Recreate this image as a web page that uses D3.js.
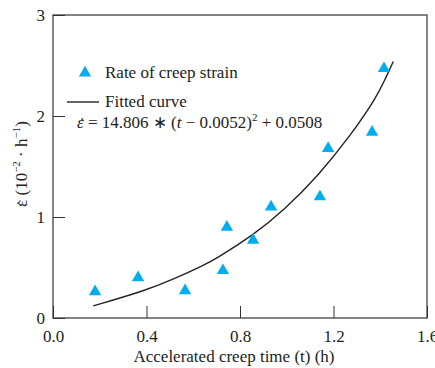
<!DOCTYPE html>
<meta charset="utf-8">
<style>
  body { margin: 0; background: #fff; }
  text { font-family: "Liberation Serif", "Times New Roman", serif; fill: #222; }
</style>
<body>
<div id="chart"></div>
<script src="https://cdn.jsdelivr.net/npm/d3@7"></script>
<script>
// measured points (h, 10^-2 h^-1)
const timeH = [0.18, 0.364, 0.565, 0.727, 0.744, 0.856, 0.933, 1.142, 1.177, 1.365, 1.416];
const rate  = [0.26, 0.40, 0.27, 0.47, 0.90, 0.77, 1.10, 1.20, 1.68, 1.84, 2.47];

// fitted curve
const fitT = [0.172, 0.394, 0.522, 0.643, 0.693, 0.857, 0.985, 1.135, 1.271, 1.385, 1.42, 1.456];
const fitY = [0.12, 0.27, 0.39, 0.52, 0.58, 0.82, 1.06, 1.41, 1.80, 2.19, 2.36, 2.54];

const xTicks = [0, 0.4, 0.8, 1.2, 1.6];
const yTicks = [0, 1, 2, 3];

const W = 435, H = 368;
const margin = { top: 15, left: 53 };
const width = 427 - margin.left;
const height = 318 - margin.top;
const fs = 17;

const svg = d3.select("#chart").append("svg")
    .attr("width", W).attr("height", H);
const g = svg.append("g")
    .attr("transform", `translate(${margin.left},${margin.top})`);

const x = d3.scaleLinear().domain([0, 1.6]).range([0, width]);
const y = d3.scaleLinear().domain([0, 3]).range([height, 0]);

// axes, ticks point inward
g.append("g")
    .attr("transform", `translate(0,${height})`)
    .call(d3.axisBottom(x).tickValues(xTicks).tickFormat(d3.format(".1f"))
      .tickSizeInner(-12).tickSizeOuter(0).tickPadding(9))
    .call(a => a.select(".domain").remove())
    .call(a => a.selectAll("text").attr("font-size", fs).attr("dy", "0.9em")
      .attr("font-family", "Liberation Serif").attr("fill", "#222"))
    .call(a => a.selectAll("line").attr("stroke", "#333"));

g.append("g")
    .call(d3.axisLeft(y).tickValues(yTicks).tickFormat(d3.format("d"))
      .tickSizeInner(-12).tickSizeOuter(0).tickPadding(8))
    .call(a => a.select(".domain").remove())
    .call(a => a.selectAll("text").attr("font-size", fs)
      .attr("font-family", "Liberation Serif").attr("fill", "#222"))
    .call(a => a.selectAll("line").attr("stroke", "#333"));

// frame
g.append("rect")
    .attr("width", width).attr("height", height)
    .attr("fill", "none").attr("stroke", "#333").attr("stroke-width", 1.2);

// fitted curve
const fit = fitT.map((t, i) => [t, fitY[i]]);
g.append("path")
    .datum(fit)
    .attr("fill", "none")
    .attr("stroke", "#222")
    .attr("stroke-width", 1.4)
    .attr("d", d3.line().x(d => x(d[0])).y(d => y(d[1])).curve(d3.curveBasis));

// markers
const tri = d3.symbol().type(d3.symbolTriangle).size(66);
g.selectAll(".pt")
  .data(timeH.map((t, i) => [t, rate[i]]))
  .join("path")
    .attr("class", "pt")
    .attr("d", tri)
    .attr("fill", "#00aeef")
    .attr("transform", d => `translate(${x(d[0])},${y(d[1])})`);

// legend
svg.append("path").attr("d", tri).attr("fill", "#00aeef")
    .attr("transform", "translate(85,73)");
svg.append("text").attr("x", 105).attr("y", 78).attr("font-size", fs)
    .text("Rate of creep strain");
svg.append("line").attr("x1", 67).attr("x2", 99).attr("y1", 102).attr("y2", 102)
    .attr("stroke", "#222").attr("stroke-width", 1.4);
svg.append("text").attr("x", 105).attr("y", 107).attr("font-size", fs)
    .text("Fitted curve");

// equation; dot over epsilon is its own small text
const eq = svg.append("text").attr("x", 77).attr("y", 128).attr("font-size", fs);
eq.append("tspan").attr("font-style", "italic").text("ε");
eq.append("tspan").text(" = 14.806 \u2217 (");
eq.append("tspan").attr("font-style", "italic").text("t");
eq.append("tspan").text(" \u2212 0.0052)");
eq.append("tspan").attr("font-size", 11).attr("dy", -7).text("2");
eq.append("tspan").attr("dy", 7).text(" + 0.0508");
svg.append("text").attr("x", 82).attr("y", 129).attr("text-anchor", "middle")
    .attr("font-size", fs).text("\u02d9");

// axis titles
svg.append("text").attr("x", 234).attr("y", 362).attr("text-anchor", "middle")
    .attr("font-size", fs).text("Accelerated creep time (t) (h)");

const ylg = svg.append("g").attr("transform", "translate(27,164) rotate(-90)");
const yl = ylg.append("text").attr("text-anchor", "middle").attr("font-size", fs);
yl.append("tspan").text("ε (10");
yl.append("tspan").attr("font-size", 11).attr("dy", -7).text("\u22122");
yl.append("tspan").attr("dy", 7).text(" \u00b7 h");
yl.append("tspan").attr("font-size", 11).attr("dy", -7).text("\u22121");
yl.append("tspan").attr("dy", 7).text(")");
const ylen = yl.node().getComputedTextLength();
ylg.append("text").attr("x", -ylen / 2 + 3.8).attr("y", 1).attr("text-anchor", "middle")
    .attr("font-size", fs).text("\u02d9");
</script>
</body>
